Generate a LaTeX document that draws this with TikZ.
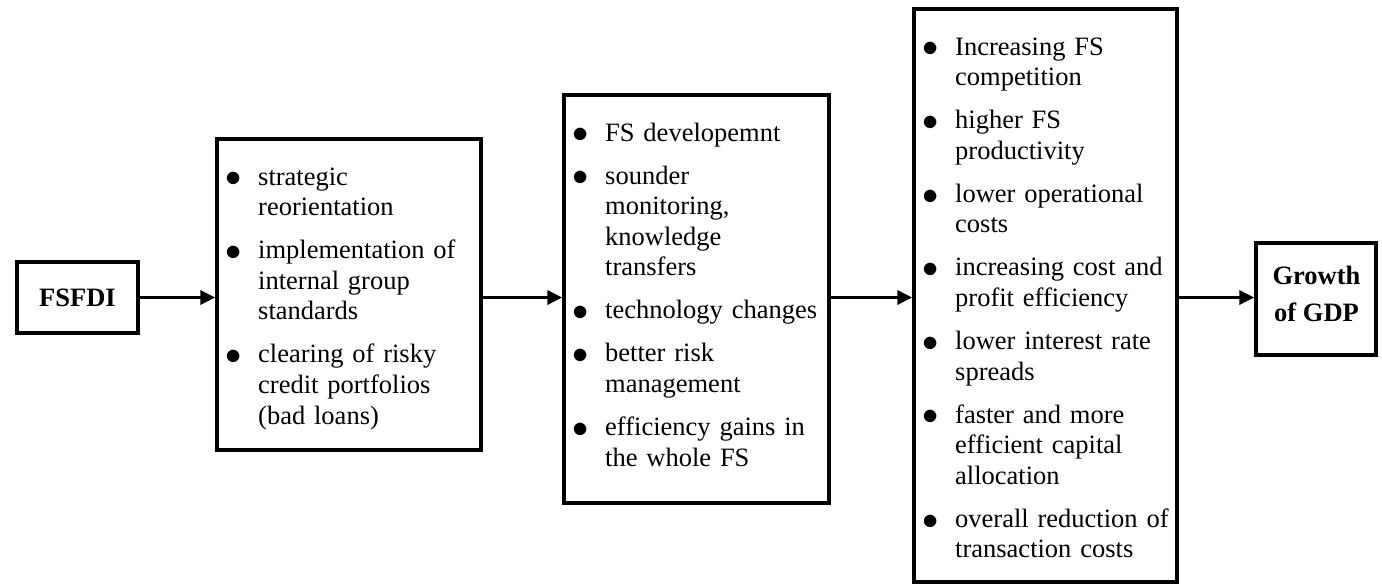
\documentclass[tikz,border=0pt]{standalone}
\usepackage{fontspec}
\usepackage{graphicx}
\setmainfont{Liberation Serif}
\usetikzlibrary{arrows.meta}
\newcommand\mybul{\raisebox{-1.8pt}{\scalebox{1.3}{$\bullet$}}}
\newcommand\bitem[1]{\noindent\llap{\makebox[0pt][c]{\mybul}\hspace*{25pt}}#1\par}
\tikzset{
  boxnode/.style={draw=black, line width=3.5pt, fill=white, inner sep=0pt},
  txtnode/.style={inner sep=0pt, text width=240pt, align=left, anchor=base west,
    font=\fontsize{26.5}{30.6}\selectfont},
  boldtxt/.style={inner sep=0pt, align=center, font=\fontsize{26.5}{37}\selectfont\bfseries},
  arr/.style={line width=3.5pt, -{Triangle[length=15pt,width=14pt]}}
}
\begin{document}
\begin{tikzpicture}[x=1pt,y=-1pt]
\useasboundingbox (0,0) rectangle (1382,584);
\fill[white] (0,0) rectangle (1382,584);
% boxes
\node[boxnode, minimum width=121pt, minimum height=71pt] (fsfdi) at (77.5,297.5) {};
\node[boldtxt] (fsfditxt) at (fsfdi.center) {FSFDI};
\node[boxnode, minimum width=264pt, minimum height=311pt] (b2) at (349,294.5) {};
\node[boxnode, minimum width=265pt, minimum height=408pt] (b3) at (696.5,299) {};
\node[boxnode, minimum width=263pt, minimum height=573pt] (b4) at (1045.5,295.5) {};
\node[boxnode, minimum width=120pt, minimum height=112pt] (gdp) at (1316,299) {};
\node[boldtxt] (gdptxt) at (1316.5,293.5) {Growth\\of GDP};
% texts
\node[txtnode] (t2) at (258,185) {\setlength\parskip{12.4pt}%
\bitem{strategic\\reorientation}%
\bitem{implementation of\\internal group\\standards}%
\bitem{clearing of risky\\credit portfolios\\(bad loans)}};
\node[txtnode] (t3) at (605,141) {\setlength\parskip{12.4pt}%
\bitem{FS developemnt}%
\bitem{sounder\\monitoring,\\knowledge\\transfers}%
\bitem{technology changes}%
\bitem{better risk\\management}%
\bitem{efficiency gains in\\the whole FS}};
\node[txtnode] (t4) at (955,55) {\setlength\parskip{12.4pt}%
\bitem{Increasing FS\\competition}%
\bitem{higher FS\\productivity}%
\bitem{lower operational\\costs}%
\bitem{increasing cost and\\profit efficiency}%
\bitem{lower interest rate\\spreads}%
\bitem{faster and more\\efficient capital\\allocation}%
\bitem{overall reduction of\\transaction costs}};
% arrows
\coordinate (ay) at (0,297.5);
\draw[arr] (fsfdi.east |- ay) -- (b2.west |- ay);
\draw[arr] (b2.east |- ay) -- (b3.west |- ay);
\draw[arr] (b3.east |- ay) -- (b4.west |- ay);
\draw[arr] (b4.east |- ay) -- (gdp.west |- ay);
\end{tikzpicture}
\end{document}
